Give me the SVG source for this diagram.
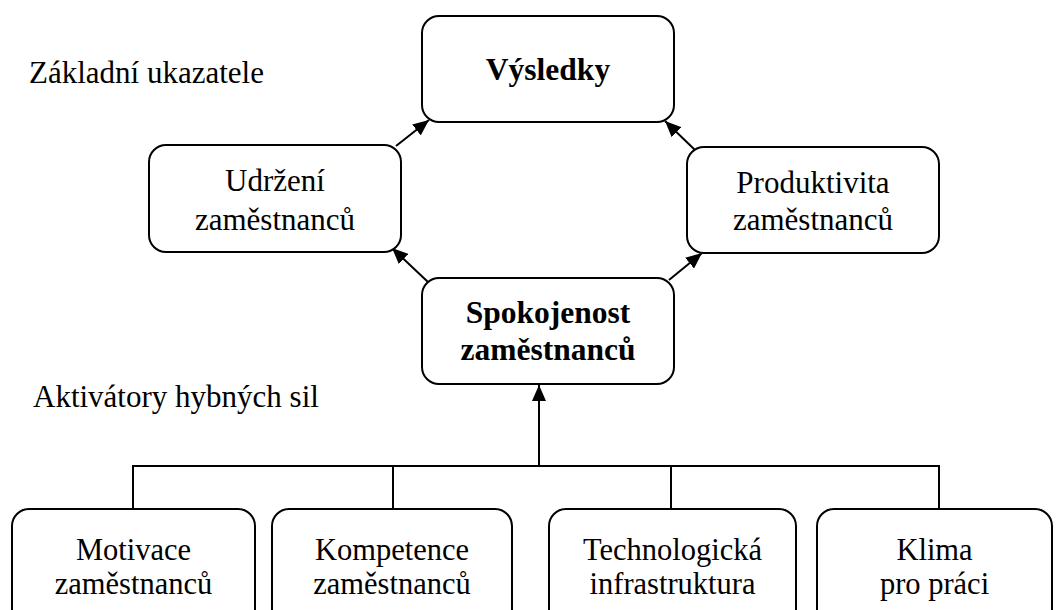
<svg xmlns="http://www.w3.org/2000/svg" width="1064" height="610" viewBox="0 0 1064 610">
  <style>
    .box { fill: #ffffff; stroke: #000000; stroke-width: 2; }
    .lbl { font-family: "Liberation Serif", "Times New Roman", serif; font-size: 31px; fill: #000000; text-anchor: middle; }
    .bold { font-weight: bold; font-size: 31.5px; }
    .low { font-size: 30.5px; }
    .cap { font-family: "Liberation Serif", "Times New Roman", serif; font-size: 31px; fill: #000000; }
    .wire { fill: none; stroke: #000000; stroke-width: 2; }
  </style>
  <defs>
    <marker id="arrow" viewBox="0 0 16 14" refX="16" refY="7" markerWidth="16" markerHeight="14" markerUnits="userSpaceOnUse" orient="auto">
      <path d="M0,0 L16,7 L0,14 Z" fill="#000000"/>
    </marker>
  </defs>

  <rect width="1064" height="610" fill="#ffffff"/>

  <!-- section captions -->
  <text class="cap" x="29" y="83">Základní ukazatele</text>
  <text class="cap" x="33" y="407">Aktivátory hybných sil</text>

  <!-- connectors -->
  <g id="connectors">
    <line class="wire" x1="396" y1="146" x2="429" y2="120" marker-end="url(#arrow)"/>
    <line class="wire" x1="695" y1="150" x2="665" y2="121" marker-end="url(#arrow)"/>
    <line class="wire" x1="428" y1="282" x2="392" y2="248" marker-end="url(#arrow)"/>
    <line class="wire" x1="669" y1="280" x2="702" y2="253" marker-end="url(#arrow)"/>
    <line class="wire" x1="539" y1="466" x2="539" y2="385" marker-end="url(#arrow)"/>
    <polyline class="wire" points="133,509 133,466 939,466 939,509"/>
    <line class="wire" x1="393" y1="466" x2="393" y2="509"/>
    <line class="wire" x1="671" y1="466" x2="671" y2="509"/>
  </g>

  <g id="vysledky">
    <rect class="box" x="422" y="16" width="252" height="106" rx="17"/>
    <text class="lbl bold" x="548" y="80">Výsledky</text>
  </g>

  <g id="udrzeni">
    <rect class="box" x="149" y="145" width="252" height="107" rx="17"/>
    <text class="lbl" x="275" y="191">Udržení</text>
    <text class="lbl" x="275" y="230">zaměstnanců</text>
  </g>

  <g id="produktivita">
    <rect class="box" x="687" y="147" width="252" height="106" rx="17"/>
    <text class="lbl" x="813" y="193">Produktivita</text>
    <text class="lbl" x="813" y="230">zaměstnanců</text>
  </g>

  <g id="spokojenost">
    <rect class="box" x="422" y="278" width="252" height="106" rx="17"/>
    <text class="lbl bold" x="548" y="323">Spokojenost</text>
    <text class="lbl bold" x="548" y="360">zaměstnanců</text>
  </g>

  <!-- driver boxes run past the lower edge -->
  <g id="motivace">
    <rect class="box" x="12" y="509" width="243" height="120" rx="17"/>
    <text class="lbl low" x="133.5" y="560">Motivace</text>
    <text class="lbl low" x="133.5" y="594">zaměstnanců</text>
  </g>

  <g id="kompetence">
    <rect class="box" x="272" y="509" width="240" height="120" rx="17"/>
    <text class="lbl low" x="392" y="560">Kompetence</text>
    <text class="lbl low" x="392" y="594">zaměstnanců</text>
  </g>

  <g id="technologie">
    <rect class="box" x="549" y="509" width="247" height="120" rx="17"/>
    <text class="lbl low" x="672.5" y="560">Technologická</text>
    <text class="lbl low" x="672.5" y="594">infrastruktura</text>
  </g>

  <g id="klima">
    <rect class="box" x="817" y="509" width="235" height="120" rx="17"/>
    <text class="lbl low" x="934.5" y="560">Klima</text>
    <text class="lbl low" x="934.5" y="594">pro práci</text>
  </g>
</svg>
